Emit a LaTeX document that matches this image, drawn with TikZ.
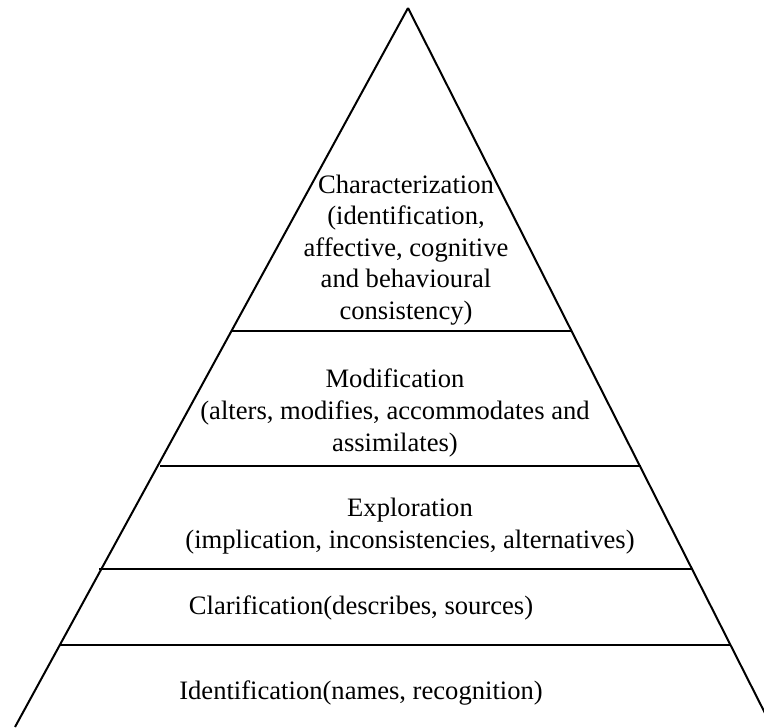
\documentclass[tikz,border=0pt]{standalone}
\usepackage{fontspec}
\setmainfont{Liberation Serif}
\begin{document}
\begin{tikzpicture}[x=0.5pt,y=-0.5pt,line width=1pt,
	stufe/.style={align=center,inner sep=0pt,font=\fontsize{13.3}{15.8}\selectfont}]
\def\kante#1#2{
	\draw #1 -- #2;
}
\useasboundingbox (0,0) rectangle (764,727);
\clip (0,0) rectangle (764,727);
\coordinate (spitze) at (408,8);
\coordinate (bl) at (15,727);
\coordinate (br) at (772,727);
\coordinate (l1) at (232,331);
\coordinate (r1) at (572,331);
\coordinate (l2) at (160,466);
\coordinate (r2) at (641,466);
\coordinate (l3) at (99,568.5);
\coordinate (r3) at (692,568.5);
\coordinate (l4) at (60,645);
\coordinate (r4) at (730,645);
\kante{(spitze)}{(bl)}
\kante{(spitze)}{(br)}
\kante{(l1)}{(r1)}
\kante{(l2)}{(r2)}
\kante{(l3)}{(r3)}
\kante{(l4)}{(r4)}
\node[stufe] (charakter) at (406,250) {Characterization\\(identification,\\affective, cognitive\\and behavioural\\consistency)};
\node[stufe] (modifikation) at (395,413) {Modification\\(alters, modifies, accommodates and\\assimilates)};
\node[stufe] (exploration) at (410,526) {Exploration\\(implication, inconsistencies, alternatives)};
\node[stufe] (klaerung) at (361,608) {Clarification(describes, sources)};
\node[stufe] (identifikation) at (361,693) {Identification(names, recognition)};
\end{tikzpicture}
\end{document}
